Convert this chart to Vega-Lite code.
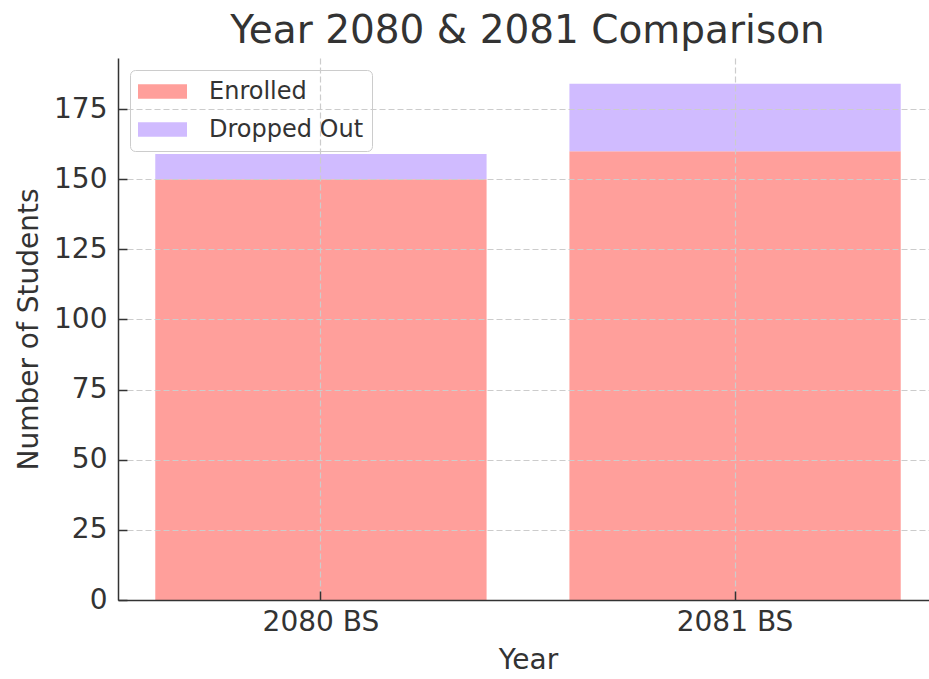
{
  "$schema": "https://vega.github.io/schema/vega-lite/v6.json",
  "width": 811,
  "height": 542,
  "autosize": {"type": "none"},
  "padding": {"left": 118, "top": 58, "right": 0, "bottom": 79},
  "title": {"text": "Year 2080 & 2081 Comparison", "fontSize": 39, "font": "DejaVu Sans", "fontWeight": "normal", "color": "#333333", "offset": 7, "dx": 4},
  "data": {"values": [
    {"year": "2080 BS", "status": "Enrolled", "count": 150, "ord": 0},
    {"year": "2080 BS", "status": "Dropped Out", "count": 9, "ord": 1},
    {"year": "2081 BS", "status": "Enrolled", "count": 160, "ord": 0},
    {"year": "2081 BS", "status": "Dropped Out", "count": 24, "ord": 1}
  ]},
  "mark": {"type": "bar"},
  "encoding": {
    "x": {"field": "year", "type": "nominal", "sort": null,
      "scale": {"range": [0, 820], "paddingInner": 0.2, "paddingOuter": 0.09},
      "axis": {"title": "Year", "labelAngle": 0, "zindex": 1, "grid": true, "bandPosition": 0.5,
        "gridDash": [6, 3], "gridColor": "#cccccc", "gridWidth": 1.2,
        "domainColor": "#333333", "domainWidth": 1.5, "tickColor": "#333333", "tickWidth": 1.5, "tickSize": -9,
        "labelFontSize": 28, "labelColor": "#333333", "labelPadding": 17, "labelFont": "DejaVu Sans",
        "titleFontSize": 28, "titleFontWeight": "normal", "titleColor": "#333333", "titlePadding": 10, "titleFont": "DejaVu Sans"}},
    "y": {"field": "count", "type": "quantitative", "stack": "zero",
      "scale": {"domain": [0, 193.2], "nice": false},
      "axis": {"title": "Number of Students", "values": [0, 25, 50, 75, 100, 125, 150, 175], "zindex": 1, "grid": true,
        "gridDash": [6, 3], "gridColor": "#cccccc", "gridWidth": 1.2,
        "domainColor": "#333333", "domainWidth": 1.5, "tickColor": "#333333", "tickWidth": 1.5, "tickSize": -9,
        "labelFontSize": 28, "labelColor": "#333333", "labelPadding": 20, "labelFont": "DejaVu Sans",
        "titleFontSize": 28, "titleFontWeight": "normal", "titleColor": "#333333", "titlePadding": 10, "titleFont": "DejaVu Sans"}},
    "color": {"field": "status", "type": "nominal",
      "scale": {"domain": ["Enrolled", "Dropped Out"], "range": ["#FF9F9B", "#D0BBFF"]},
      "legend": {"title": null, "orient": "top-left", "offset": 12, "padding": 8,
        "strokeColor": "#cccccc", "fillColor": "rgba(255,255,255,0.8)", "cornerRadius": 5,
        "symbolType": "M-1,-0.3L1,-0.3L1,0.3L-1,0.3Z", "symbolSize": 2401,
        "symbolStrokeWidth": 0, "symbolOpacity": 1,
        "labelFontSize": 24, "labelColor": "#333333", "labelOffset": 22, "labelFont": "DejaVu Sans", "labelLimit": 300,
        "clipHeight": 27, "rowPadding": 11}},
    "order": {"field": "ord", "type": "quantitative"}
  },
  "config": {"view": {"stroke": null}, "font": "DejaVu Sans"}
}
